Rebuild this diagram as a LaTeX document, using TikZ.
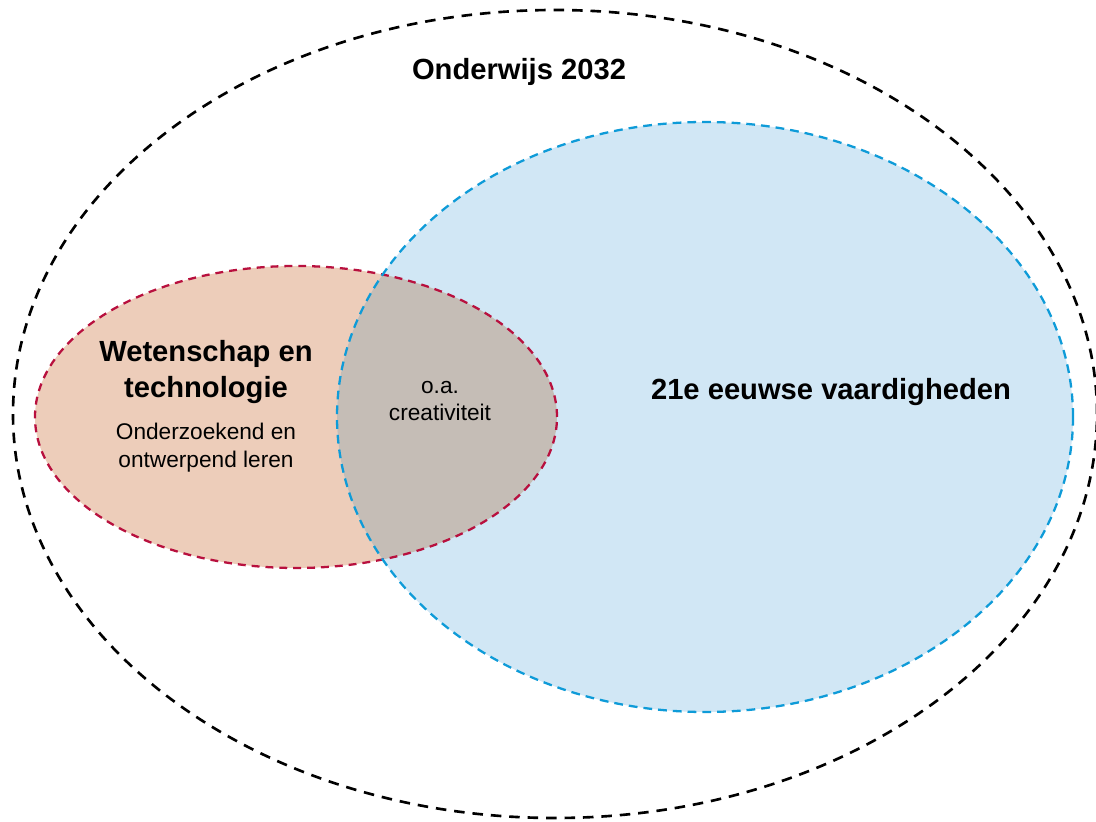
\documentclass[tikz,border=0pt]{standalone}
\usepackage{fontspec}
\setmainfont{Liberation Sans}
\definecolor{wetfill}{HTML}{EDCDBA}
\definecolor{wetline}{HTML}{B8103E}
\definecolor{eeuwfill}{HTML}{D1E7F5}
\definecolor{eeuwline}{HTML}{0E9BD8}
\definecolor{overlapfill}{HTML}{C5BDB6}
\begin{document}
\begin{tikzpicture}[x=0.02cm,y=0.02cm,
  outerline/.style={black,line width=1.5pt,dash pattern=on 6pt off 4.5pt},
  wetborder/.style={wetline,line width=1.3pt,dash pattern=on 4.5pt off 3.4pt},
  eeuwborder/.style={eeuwline,line width=1.3pt,dash pattern=on 5pt off 3.4pt},
  bigtext/.style={font=\fontsize{16.6}{20.4}\selectfont\bfseries,align=center},
  smalltext/.style={font=\fontsize{12.9}{15.9}\selectfont,align=center}]

\useasboundingbox (0,0) rectangle (1096,822);
\clip (0,0) rectangle (1096,822);

% fills
\fill[wetfill]  (296,405) ellipse [x radius=261, y radius=151];
\fill[eeuwfill] (705,405) ellipse [x radius=368, y radius=295];
\begin{scope}
  \clip (296,405) ellipse [x radius=261, y radius=151];
  \fill[overlapfill] (705,405) ellipse [x radius=368, y radius=295];
\end{scope}

% borders
\draw[outerline]  (555,408) ellipse [x radius=542, y radius=404];
\draw[wetborder]  (296,405) ellipse [x radius=261, y radius=151];
\draw[eeuwborder] (705,405) ellipse [x radius=368, y radius=295];

\node[bigtext]   (onderwijs) at (519,750) {Onderwijs 2032};
\node[bigtext]   (wetenschap) at (206,450) {Wetenschap en\\technologie};
\node[smalltext] (onderzoek) at (206,374) {Onderzoekend en\\ontwerpend leren};
\node[smalltext] (overlap) at (440,421) {o.a.\\creativiteit};
\node[bigtext]   (eeuws) at (831,430) {21e eeuwse vaardigheden};

\end{tikzpicture}
\end{document}
